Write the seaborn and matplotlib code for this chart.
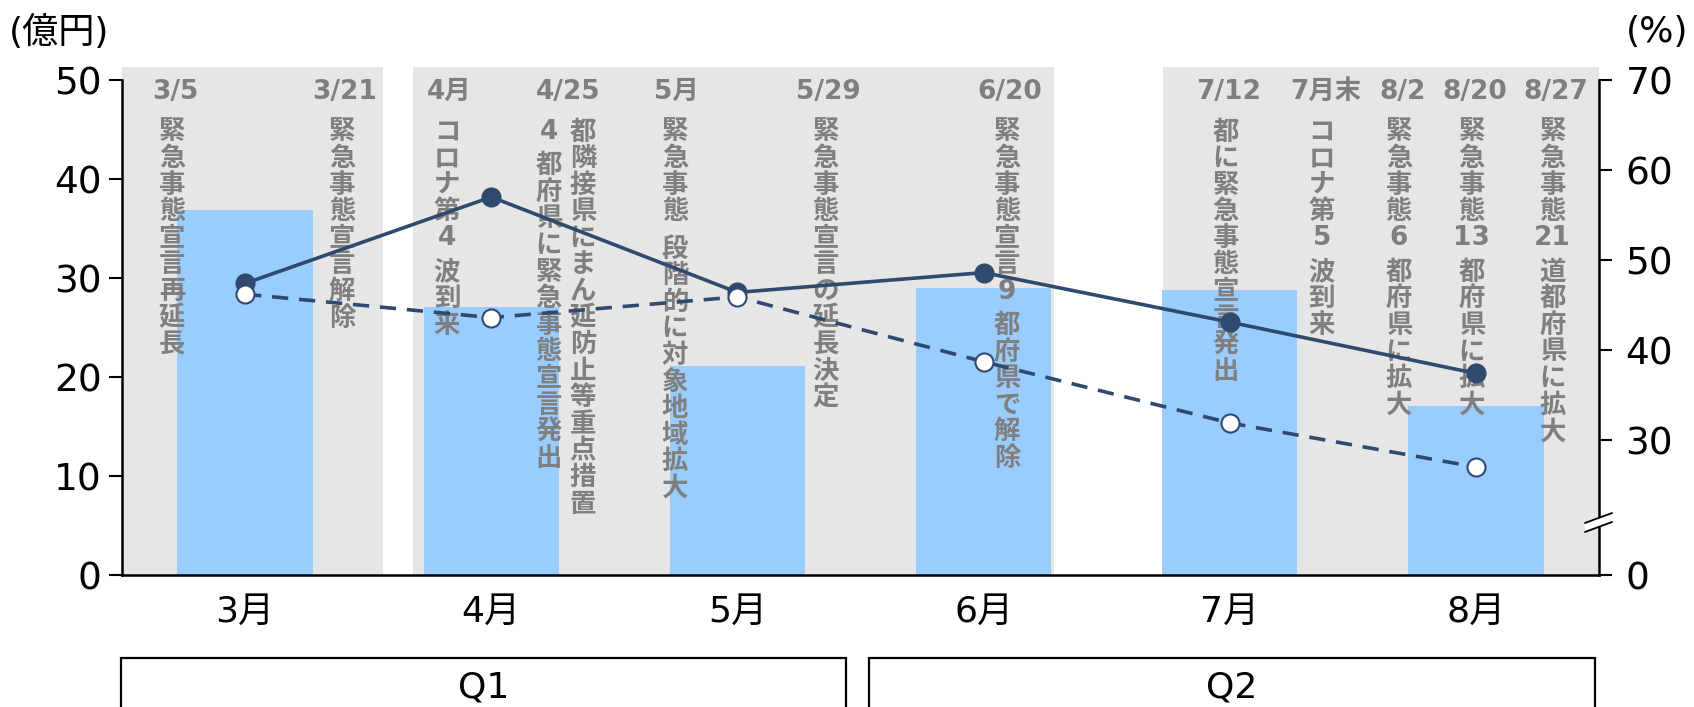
import matplotlib
matplotlib.use("Agg")
import numpy as np
import pandas as pd
import matplotlib.pyplot as plt
from matplotlib.patches import Rectangle, Polygon
import seaborn as sns

# chart data
months = ["3月", "4月", "5月", "6月", "7月", "8月"]
sales = [36.9, 27.1, 21.1, 29.0, 28.8, 17.1]          # 億円 (left axis)
rate_solid = [47.4, 57.0, 46.4, 48.6, 43.1, 37.4]     # % (right axis)
rate_dashed = [46.2, 43.6, 45.9, 38.7, 31.9, 27.0]    # % (right axis)

# event annotations (date label, x position in category units)
event_dates = ["3/5", "3/21", "4月", "4/25", "5月", "5/29", "6/20",
               "7/12", "7月末", "8/2", "8/20", "8/27"]
event_date_x = [-0.285, 0.406, 0.828, 1.312, 1.754, 2.368, 3.107,
                3.996, 4.39, 4.703, 4.996, 5.325]
event_texts = ["緊急事態宣言再延長", "緊急事態宣言解除", "コロナ第4波到来",
               "4都府県に緊急事態宣言発出", "都隣接県にまん延防止等重点措置",
               "緊急事態 段階的に対象地域拡大", "緊急事態宣言の延長決定",
               "緊急事態宣言9都府県で解除", "都に緊急事態宣言発出",
               "コロナ第5波到来", "緊急事態6都府県に拡大",
               "緊急事態13都府県に拡大", "緊急事態21道都府県に拡大"]
event_text_x = [-0.297, 0.394, 0.82, 1.234, 1.372, 1.746, 2.359,
                3.095, 3.984, 4.374, 4.687, 4.983, 5.312]

# shaded periods (category units)
shade_spans = [(-0.5, 0.561), (0.683, 3.285), (3.728, 5.5)]

BAR = "#99CCFF"
SHADE = "#E6E6E6"
NAVY = "#2F4A6E"
NOTE = "#7F7F7F"

sns.set_style("white")
plt.rcParams["font.family"] = ["DejaVu Sans", "Noto Sans CJK JP"]
plt.rcParams["text.color"] = "black"
plt.rcParams["xtick.color"] = "black"
plt.rcParams["ytick.color"] = "black"

fig = plt.figure(figsize=(16.94, 7.07), dpi=100)
ax = fig.add_axes([0.07202, 0.18670, 0.87190, 0.70014])

for x0, x1 in shade_spans:
    ax.axvspan(x0, x1, ymin=0, ymax=1.027, color=SHADE, lw=0, zorder=0.5, clip_on=False)

df = pd.DataFrame({"month": months, "sales": sales})
sns.barplot(data=df, x="month", y="sales", color=BAR, saturation=1, width=0.55,
            linewidth=0, edgecolor=BAR, ax=ax, zorder=1)

ax.set_xlim(-0.5, 5.5)
ax.set_ylim(0, 50)
ax.set_yticks([0, 10, 20, 30, 40, 50])
ax.set_xlabel("")
ax.set_ylabel("")
for s in ["top", "right"]:
    ax.spines[s].set_visible(False)
for s in ["left", "bottom"]:
    ax.spines[s].set_color("black")
    ax.spines[s].set_linewidth(1.8)
ax.tick_params(axis="y", direction="out", length=9.5, width=1.5, labelsize=27, pad=5,
               left=True, colors="black")
ax.tick_params(axis="x", length=0, labelsize=26, pad=14, colors="black")

# event labels
for d, x in zip(event_dates, event_date_x):
    ax.text(x, 48.8, d, ha="center", va="center", fontsize=19, fontweight="bold",
            color=NOTE, family=["DejaVu Sans", "Noto Sans CJK JP"], zorder=3)

step = 2.687
for txt, x in zip(event_texts, event_text_x):
    y = 44.75
    i = 0
    while i < len(txt):
        ch = txt[i]
        if ch == " ":
            y -= 0.4 * step
            i += 1
            continue
        if ch.isdigit():
            j = i
            while j < len(txt) and txt[j].isdigit():
                j += 1
            ax.text(x, y, txt[i:j], ha="center", va="center", fontsize=19,
                    fontweight="bold", color=NOTE, family=["DejaVu Sans"], zorder=3)
            y -= 1.27 * step
            i = j
            continue
        ax.text(x, y, ch, ha="center", va="center", fontsize=19, fontweight="bold",
                color=NOTE, family=["Noto Sans CJK JP", "DejaVu Sans"], zorder=3)
        y -= step
        i += 1

# right axis with lines
ax2 = ax.twinx()
xpos = np.arange(len(months))
sns.lineplot(x=xpos, y=rate_solid, ax=ax2, color=NAVY, lw=2.6, marker="o",
             markersize=13, markerfacecolor=NAVY, markeredgecolor=NAVY, markeredgewidth=1.5)
sns.lineplot(x=xpos, y=rate_dashed, ax=ax2, color=NAVY, lw=2.6, linestyle=(0, (4.5, 3)),
             marker="o", markersize=13, markerfacecolor="white", markeredgecolor=NAVY,
             markeredgewidth=1.5)
ax2.set_ylim(15, 70)
ax2.set_yticks([15, 30, 40, 50, 60, 70])
ax2.set_yticklabels(["0", "30", "40", "50", "60", "70"])
ax2.set_xlim(-0.5, 5.5)
for s in ["top", "left", "bottom"]:
    ax2.spines[s].set_visible(False)
ax2.spines["right"].set_color("black")
ax2.spines["right"].set_linewidth(1.8)
ax2.tick_params(axis="y", direction="out", length=9, width=1.5, labelsize=27, pad=10,
                right=True, colors="black")
ax2.set_ylabel("")

# axis break marks on right axis
ax2.add_patch(Polygon([(5.443, 20.78), (5.553, 21.89), (5.553, 20.89), (5.443, 19.78)],
                      closed=True, facecolor="white", edgecolor="none", zorder=5, clip_on=False))
ax2.plot([5.443, 5.553], [20.78, 21.89], color="black", lw=1.3, zorder=6, clip_on=False)
ax2.plot([5.443, 5.553], [19.78, 20.89], color="black", lw=1.3, zorder=6, clip_on=False)

# unit labels
fig.text(9 / 1694, 1 - 32 / 707, "(億円)", ha="left", va="center", fontsize=26)
fig.text(1688 / 1694, 1 - 32 / 707, "(%)", ha="right", va="center", fontsize=26)

# quarter boxes
for x0, x1, lab in [(121, 846, "Q1"), (869, 1595, "Q2")]:
    fig.add_artist(Rectangle((x0 / 1694, -0.1), (x1 - x0) / 1694, (707 - 658) / 707 + 0.1,
                             transform=fig.transFigure, fill=False, ec="black", lw=1.6))
    fig.text((x0 + x1) / 2 / 1694, 1 - 687 / 707, lab, ha="center", va="center", fontsize=26)

fig.savefig("out.png", dpi=100)
